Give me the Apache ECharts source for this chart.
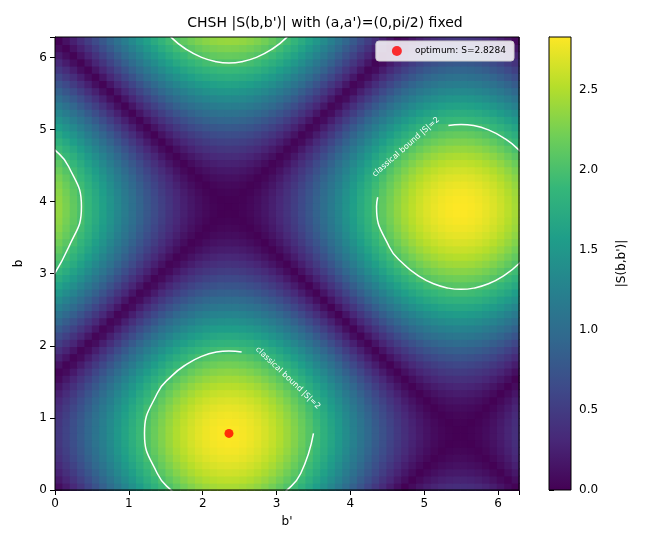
<!DOCTYPE html>
<html><head><meta charset="utf-8">
<script src="https://cdn.jsdelivr.net/npm/echarts@6/dist/echarts.min.js"></script>
<style>html,body{margin:0;padding:0;background:#fff}#c{width:650px;height:550px}</style>
</head><body><div id="c"></div>
<script>
// profile of the b term along b (cell centres 0.05, 0.15, ... 6.25)
const termB = [1.0487,1.1386,1.2169,1.2823,1.3354,1.3752,1.4012,1.4134,1.4114,1.3953,1.3650,1.3213,1.2646,1.1950,1.1136,1.0205,0.9177,0.8057,0.6858,0.5588,0.4262,0.2895,0.1499,0.0088,-0.1325,-0.2724,-0.4096,-0.5428,-0.6703,-0.7912,-0.9042,-1.0085,-1.1022,-1.1850,-1.2564,-1.3151,-1.3603,-1.3922,-1.4101,-1.4138,-1.4035,-1.3791,-1.3411,-1.2897,-1.2251,-1.1485,-1.0604,-0.9617,-0.8533,-0.7364,-0.6124,-0.4821,-0.3470,-0.2085,-0.0676,0.0738,0.2144,0.3529,0.4879,0.6179,0.7420,0.8583,0.9662];
// profile of the b' term along b'
const termBp = [-0.9487,-0.8389,-0.7205,-0.5965,-0.4654,-0.3299,-0.1911,-0.0501,0.0914,0.2315,0.3697,0.5042,0.6333,0.7562,0.8717,0.9789,1.0762,1.1628,1.2377,1.3002,1.3496,1.3843,1.4063,1.4142,1.4080,1.3878,1.3537,1.3060,1.2452,1.1721,1.0871,0.9917,0.8860,0.7720,0.6503,0.5226,0.3899,0.2534,0.1146,-0.0325,-0.1735,-0.3128,-0.4489,-0.5805,-0.7064,-0.8251,-0.9357,-1.0369,-1.1278,-1.2075,-1.2748,-1.3295,-1.3709,-1.3988,-1.4127,-1.4123,-1.3978,-1.3695,-1.3274,-1.2721,-1.2041,-1.1239,-1.0327];
const ticks = [0,1,2,3,4,5,6];
const cbTicks = [0,0.5,1,1.5,2,2.5];
const optimum = [2.356, 0.785, 2.8284];
// |S|=2 contour pieces, [b', b]
const contourBottom = [[3.5,0.785],[3.327,0.229],[3.127,-0.015],[2.927,-0.175],[2.727,-0.282],[2.527,-0.342],[2.356,-0.359],[2.185,-0.342],[1.985,-0.282],[1.785,-0.175],[1.585,-0.015],[1.385,0.229],[1.212,0.785],[1.385,1.342],[1.585,1.586],[1.785,1.746],[1.985,1.853],[2.185,1.913],[2.356,1.929],[2.527,1.913]];
const contourTop = [[3.5,7.068],[3.327,6.512],[3.127,6.268],[2.927,6.108],[2.727,6.001],[2.527,5.941],[2.356,5.924],[2.185,5.941],[1.985,6.001],[1.785,6.108],[1.585,6.268],[1.385,6.512],[1.212,7.068]];
const contourRight = [[5.327,5.055],[5.498,5.071],[5.669,5.055],[5.869,4.995],[6.069,4.888],[6.269,4.728],[6.469,4.484],[6.642,3.927],[6.469,3.371],[6.269,3.127],[6.069,2.967],[5.869,2.860],[5.669,2.800],[5.498,2.783],[5.327,2.800],[5.127,2.860],[4.927,2.967],[4.727,3.127],[4.527,3.371],[4.354,3.927],[4.370,4.06]];
const contourLeft = [[-0.142,2.787],[0.186,3.371],[0.358,3.927],[0.186,4.484],[-0.014,4.728],[-0.214,4.888]];

const viridis = ['#440154','#482878','#3e4989','#31688e','#26828e','#1f9e89','#35b779','#6ece58','#b5de2b','#fde725'];
const STEP = 2 * Math.PI / termB.length;
const heat = [];
for (let i = 0; i < termB.length; i++)
  for (let j = 0; j < termBp.length; j++)
    heat.push([(j + 0.5) * STEP, (i + 0.5) * STEP, Math.abs(termB[i] + termBp[j])]);
const lineS = d => ({type:'line', data:d, showSymbol:false, smooth:true, clip:true, silent:true,
  lineStyle:{color:'#fff', width:1.5}, z:5});
const chart = echarts.init(document.getElementById('c'));
chart.setOption({
  animation:false,
  title:{text:"CHSH |S(b,b')| with (a,a')=(0,pi/2) fixed", left:'center', top:11, textStyle:{fontSize:14, fontWeight:'normal', color:'#000', fontFamily:'DejaVu Sans'}},
  textStyle:{fontFamily:'DejaVu Sans'},
  legend:{data:['optimum: S=2.8284'], right:136, top:41, orient:'vertical', itemWidth:10, itemHeight:10, itemGap:4,
    backgroundColor:'rgba(255,255,255,0.85)', borderColor:'#ccc', borderWidth:1, borderRadius:3, padding:[5,8,5,16],
    textStyle:{fontSize:9, color:'#000', padding:[0,0,0,8]}},
  grid:[{left:55, right:131, top:37, bottom:60}, {left:549, right:79, top:37, bottom:60}],
  xAxis:[
    {gridIndex:0, type:'value', min:0, max:2*Math.PI, interval:1, name:"b'", nameLocation:'middle', nameGap:26,
      nameTextStyle:{fontSize:12, color:'#000'}, splitLine:{show:false},
      axisLine:{lineStyle:{color:'#000'}}, axisTick:{lineStyle:{color:'#000'}},
      axisLabel:{color:'#000', fontSize:12, formatter:v => ticks.includes(v) ? v : ''}},
    {gridIndex:1, type:'value', show:false, min:0, max:1}
  ],
  yAxis:[
    {gridIndex:0, type:'value', min:0, max:2*Math.PI, interval:1, name:'b', nameLocation:'middle', nameGap:30,
      nameTextStyle:{fontSize:12, color:'#000'}, splitLine:{show:false},
      axisLine:{lineStyle:{color:'#000'}}, axisTick:{lineStyle:{color:'#000'}},
      axisLabel:{color:'#000', fontSize:12, formatter:v => ticks.includes(v) ? v : ''}},
    {gridIndex:1, type:'value', position:'right', min:0, max:2.8284, interval:0.5, name:"|S(b,b')|", nameLocation:'middle', nameGap:45,
      nameRotate:90, nameTextStyle:{fontSize:12, color:'#000'}, splitLine:{show:false},
      axisLine:{show:true, lineStyle:{color:'#000'}}, axisTick:{show:true, lineStyle:{color:'#000'}},
      axisLabel:{color:'#000', fontSize:12, formatter:v => cbTicks.includes(v) ? v.toFixed(1) : ''}}
  ],
  visualMap:{type:'continuous', seriesIndex:0, dimension:2, min:0, max:2.8284, show:false, inRange:{color:viridis}},
  graphic:[
    {type:'text', x:288, y:378, rotation:-0.76, style:{text:'classical bound |S|=2', fill:'#fff', font:'8px DejaVu Sans', align:'center', verticalAlign:'middle'}, z:10},
    {type:'text', x:406, y:147, rotation:0.72, style:{text:'classical bound |S|=2', fill:'#fff', font:'8px DejaVu Sans', align:'center', verticalAlign:'middle'}, z:10},
    {type:'rect', shape:{x:549, y:37, width:22, height:453}, style:{stroke:'#000', lineWidth:1,
      fill:{type:'linear', x:0, y:1, x2:0, y2:0, colorStops:viridis.map((c, k) => ({offset:k/(viridis.length-1), color:c}))}}, z:1},
    {type:'rect', shape:{x:55, y:37, width:464, height:453}, style:{fill:'none', stroke:'#000', lineWidth:1}, z:10}
  ],
  series:[
    {type:'custom', data:heat, silent:true, clip:true, z:1,
      renderItem:(params, api) => {
        const p0 = api.coord([api.value(0) - STEP/2, api.value(1) + STEP/2]);
        const p1 = api.coord([api.value(0) + STEP/2, api.value(1) - STEP/2]);
        return {type:'rect', shape:{x:p0[0], y:p0[1], width:p1[0]-p0[0]+0.8, height:p1[1]-p0[1]+0.8},
          style:{fill:api.visual('color')}};
      }},
    lineS(contourBottom), lineS(contourTop), lineS(contourRight), lineS(contourLeft),
    {type:'scatter', name:'optimum: S=2.8284', data:[optimum.slice(0,2)], symbolSize:9,
      itemStyle:{color:'#ff0000'}, z:8}
  ]
});
</script></body></html>
